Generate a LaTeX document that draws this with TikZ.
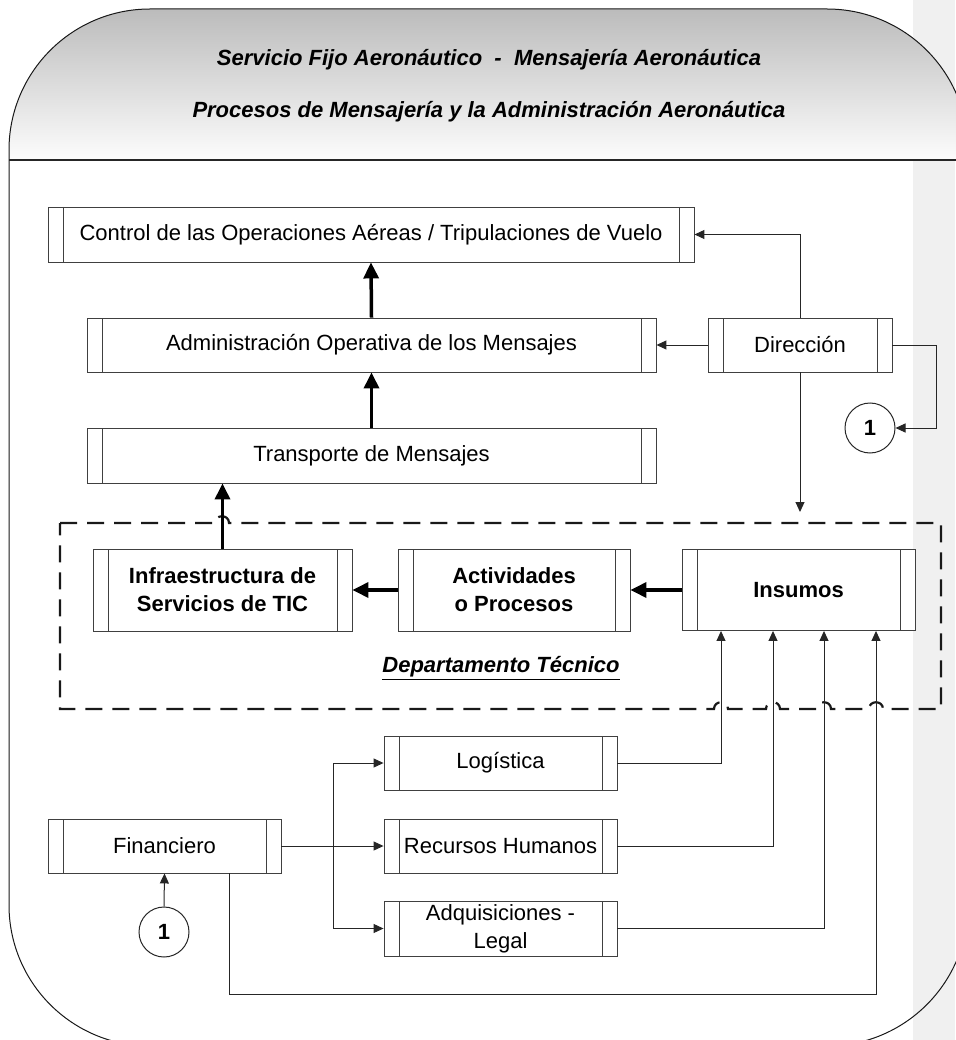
\documentclass[tikz,border=0pt]{standalone}
\usepackage{fontspec}
\setmainfont{Liberation Sans}
\usetikzlibrary{arrows.meta}
\newcommand\boxfont{\fontsize{22}{28}\selectfont}
\begin{document}
\begin{tikzpicture}[x=1pt,y=-1pt,
  proc/.style={draw=black!75, line width=0.9pt, fill=white, rectangle, inner sep=0pt,
    align=center, font=\boxfont,
    path picture={\draw[black!75, line width=0.9pt]
      ([xshift=15pt]path picture bounding box.north west) -- ([xshift=15pt]path picture bounding box.south west)
      ([xshift=-15pt]path picture bounding box.north east) -- ([xshift=-15pt]path picture bounding box.south east);}},
  boldproc/.style={proc, font=\boxfont\bfseries},
  conn/.style={line width=1pt, draw=black!85, -{Triangle[length=10pt,width=9pt]}},
  bigarrow/.style={line width=3.5pt, draw=black, -{Triangle[length=16pt,width=15pt]}},
  onpage/.style={circle, draw=black!85, line width=1pt, minimum size=50pt, inner sep=0pt,
    font=\boxfont\bfseries},
  title/.style={font=\fontsize{22}{26}\selectfont\bfseries\itshape},
  groupframe/.style={line width=2.2pt, draw=black!90, dash pattern=on 17pt off 10pt}
]
\useasboundingbox (0,0) rectangle (955,1040);

% margin strip
\fill[black!6] (913,0) rectangle (955,1040);

% header band of the frame
\begin{scope}
  \clip[rounded corners=141pt] (9,9) rectangle (968,1046);
  \shade[top color=black!28, bottom color=black!1] (0,0) rectangle (975,160);
\end{scope}
\draw[line width=1pt, black!90, rounded corners=141pt] (9,9) rectangle (968,1046);
\draw[line width=2pt, black!85] (9,160) -- (968,160);

\node[title] (t1) at (489,60) {Servicio Fijo Aeronáutico\ \ -\ \ Mensajería Aeronáutica};
\node[title] (t2) at (489,112) {Procesos de Mensajería y la Administración Aeronáutica};

% group frame with line jumps
\draw[groupframe] (60,523) -- (215,523) .. controls (215,514) and (229,514) .. (229,523)
  -- (941,523) -- (941,709)
  -- (883,709) .. controls (883,700) and (869,700) .. (869,709)
  -- (831,709) .. controls (831,700) and (817,700) .. (817,709)
  -- (780,709) .. controls (780,700) and (766,700) .. (766,709)
  -- (728,709) .. controls (728,700) and (714,700) .. (714,709)
  -- (60,709) -- cycle;
\node[font=\boxfont\bfseries\itshape] (dep) at (501,668) {\underline{Departamento Técnico}};

% process boxes
\node[proc, minimum width=646pt, minimum height=55pt] (ctrl) at (371,234.5)
  {Control de las Operaciones Aéreas / Tripulaciones de Vuelo};
\node[proc, minimum width=569pt, minimum height=54pt] (adm) at (371.5,345)
  {Administración Operativa de los Mensajes};
\node[proc, minimum width=569pt, minimum height=55pt] (tra) at (371.5,455.5)
  {Transporte de Mensajes};
\node[proc, minimum width=184pt, minimum height=54pt] (dir) at (800,345) {Dirección};

\node[boldproc, minimum width=259pt, minimum height=82pt] (infra) at (222.5,590)
  {Infraestructura de\\Servicios de TIC};
\node[boldproc, minimum width=232pt, minimum height=82pt] (act) at (514,590)
  {Actividades\\o Procesos};
\node[boldproc, minimum width=233pt, minimum height=81pt] (ins) at (798.5,590) {Insumos};

\node[proc, minimum width=233pt, minimum height=54pt] (log) at (500.5,763) {Logística};
\node[proc, minimum width=233pt, minimum height=54pt] (rh) at (500.5,846) {Recursos Humanos};
\node[proc, minimum width=233pt, minimum height=55pt] (adq) at (500.5,928.5)
  {Adquisiciones -\\Legal};
\node[proc, minimum width=233pt, minimum height=54pt] (fin) at (164.5,846) {Financiero};

\node[onpage] (c1) at (870,428) {1};
\node[onpage] (c2) at (164,932) {1};

% main flow
\draw[bigarrow] (adm.north) -- (ctrl.south);
\draw[bigarrow] (tra.north) -- (adm.south);
\draw[bigarrow] (infra.north) -- (infra.north |- tra.south);
\draw[bigarrow] (act.west) -- (infra.east);
\draw[bigarrow] (ins.west) -- (act.east);

% management links
\coordinate (dirEnd) at (800,512);
\draw[conn] (dir.north) |- (ctrl.east);
\draw[conn] (dir.west) -- (adm.east);
\draw[conn] (dir.south) -- (dirEnd);
\draw[conn] (dir.east) -- ++(44,0) |- (c1.east);

% support areas
\coordinate (br) at (333,846);
\coordinate (xF) at (229,0);
\coordinate (yB) at (0,994);
\coordinate (x1) at (721,0);
\coordinate (x2) at (773,0);
\coordinate (x3) at (824,0);
\coordinate (x4) at (876,0);

\draw[conn] (c2.north) -- (fin.south);
\draw[conn] (fin.east) -- (rh.west);
\draw[conn] (br) |- (log.west);
\draw[conn] (br) |- (adq.west);
\draw[conn] (log.east) -| (x1 |- ins.south);
\draw[conn] (rh.east) -| (x2 |- ins.south);
\draw[conn] (adq.east) -| (x3 |- ins.south);
\draw[conn] (xF |- fin.south) |- (yB -| x4) -- (x4 |- ins.south);
\end{tikzpicture}
\end{document}
